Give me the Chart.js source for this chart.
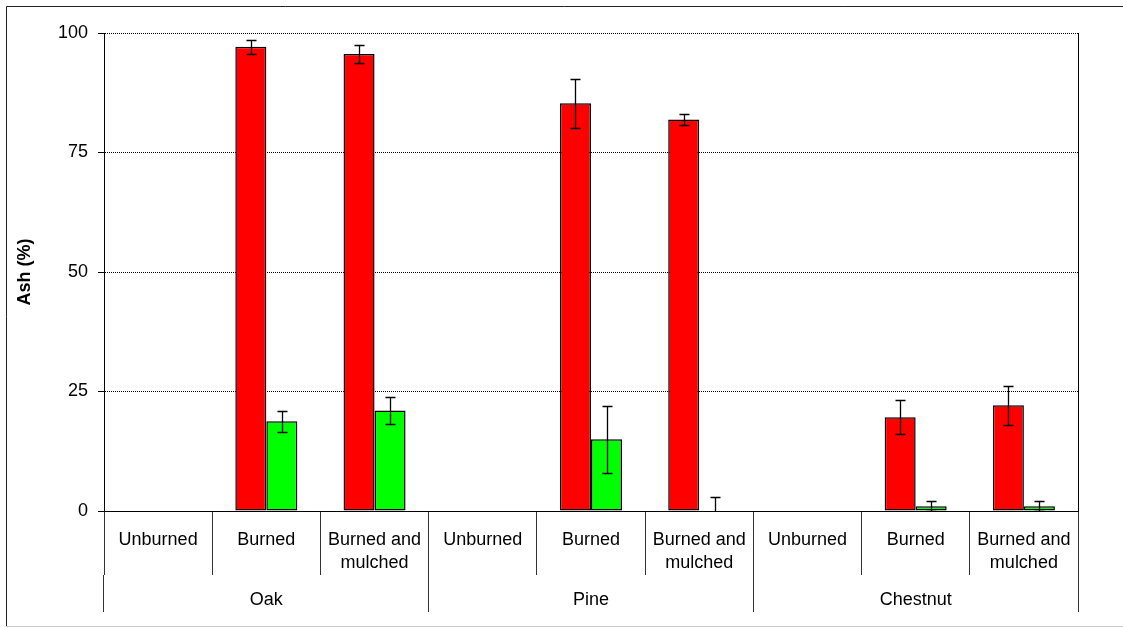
<!DOCTYPE html>
<html>
<head>
<meta charset="utf-8">
<script src="https://cdn.jsdelivr.net/npm/chart.js@4"></script>
<style>
  body { margin: 0; background: #fff; }
  #wrap { width: 1123px; height: 628px; position: relative; }
</style>
</head>
<body>
<div id="wrap"><canvas id="ashChart"></canvas></div>
<script>
const treatments = ['Unburned', 'Burned', ['Burned and', 'mulched'],
                    'Unburned', 'Burned', ['Burned and', 'mulched'],
                    'Unburned', 'Burned', ['Burned and', 'mulched']];
const species = ['Oak', 'Pine', 'Chestnut'];

// red series and its error
const redAsh = [0, 97.1, 95.6, 0, 85.3, 81.9, 0, 19.6, 22.1];
const redErr = [0, 1.5, 1.9, 0, 5.1, 1.25, 0, 3.55, 4.1];
// green series and its error
const greenAsh = [0, 18.8, 21.0, 0, 15.0, 0, 0, 1.0, 1.0];
const greenErr = [0, 2.2, 2.8, 0, 7.05, 2.9, 0, 1.0, 1.0];

const yTicks = [0, 25, 50, 75, 100];

const FONT = '"Liberation Sans", Arial, sans-serif';

// error whiskers on top of each bar
const errorBars = {
    id: 'errorBars',
    afterDatasetsDraw(chart) {
        const c = chart.ctx;
        const y = chart.scales.y;
        const area = chart.chartArea;
        c.save();
        c.beginPath();
        c.rect(area.left, area.top - 10, area.right - area.left, area.bottom - area.top + 10);
        c.clip();
        c.strokeStyle = '#000';
        c.lineWidth = 1.3;
        chart.data.datasets.forEach((ds, i) => {
            chart.getDatasetMeta(i).data.forEach((bar, j) => {
                const e = ds.errors[j];
                if (!e) return;
                const v = ds.data[j];
                const top = Math.round(y.getPixelForValue(v + e)) + 0.5;
                const bot = Math.round(y.getPixelForValue(v - e)) + 0.5;
                const x = Math.round(bar.x) + 0.5;
                c.beginPath();
                c.moveTo(x, top); c.lineTo(x, bot);
                c.moveTo(x - 5, top); c.lineTo(x + 5, top);
                c.moveTo(x - 5, bot); c.lineTo(x + 5, bot);
                c.stroke();
            });
        });
        c.restore();
    }
};

// outer frame and right edge of the plot
const frame = {
    id: 'frame',
    afterDraw(chart) {
        const c = chart.ctx;
        const a = chart.chartArea;
        c.save();
        c.lineWidth = 1;
        c.strokeStyle = '#000';
        c.beginPath();
        c.moveTo(Math.round(a.right) + 0.5, a.top);
        c.lineTo(Math.round(a.right) + 0.5, a.bottom);
        c.stroke();
        c.strokeStyle = '#222';
        c.beginPath();
        c.moveTo(1123, 6.5); c.lineTo(6.5, 6.5); c.lineTo(6.5, 626);
        c.stroke();
        c.strokeStyle = '#c8c8c8';
        c.beginPath();
        c.moveTo(6, 626.5); c.lineTo(1123, 626.5);
        c.stroke();
        c.restore();
    }
};

new Chart(document.getElementById('ashChart'), {
    type: 'bar',
    data: {
        labels: treatments,
        datasets: [{
            data: redAsh,
            errors: redErr,
            backgroundColor: '#ff0000',
            borderColor: '#000',
            borderWidth: 1.5,
            borderSkipped: false
        }, {
            data: greenAsh,
            errors: greenErr,
            backgroundColor: '#00ff00',
            borderColor: '#000',
            borderWidth: 1.5,
            borderSkipped: false
        }]
    },
    options: {
        responsive: true,
        maintainAspectRatio: false,
        animation: false,
        layout: { padding: { top: 33, right: 45, bottom: 16, left: 0 } },
        categoryPercentage: 0.573,
        barPercentage: 1,
        plugins: {
            legend: { display: false },
            tooltip: { enabled: false }
        },
        scales: {
            x: {
                grid: { offset: true, drawOnChartArea: false, color: '#333', tickLength: 64 },
                border: { color: '#000', width: 1 },
                ticks: {
                    color: '#000', padding: -46.5, maxRotation: 0, autoSkip: false,
                    font: { family: FONT, size: 18, lineHeight: 1.28 }
                },
                afterFit(s) { s.height = 64; }
            },
            x2: {
                type: 'category',
                labels: species,
                position: 'bottom',
                offset: true,
                grid: { offset: true, drawOnChartArea: false, color: '#333', tickLength: 37 },
                border: { display: false },
                ticks: {
                    color: '#000', padding: -23.5, maxRotation: 0, autoSkip: false,
                    font: { family: FONT, size: 18, lineHeight: 1.28 }
                },
                afterFit(s) { s.height = 37; }
            },
            y: {
                min: 0,
                max: 100,
                afterBuildTicks(s) { s.ticks = yTicks.map(v => ({ value: v })); },
                grid: { color: '#000', tickColor: '#000', tickLength: 6 },
                border: { color: '#000', width: 1, dash: [1, 1] },
                ticks: {
                    color: '#000', padding: 10,
                    font: { family: FONT, size: 18 }
                },
                title: {
                    display: true,
                    text: 'Ash (%)',
                    color: '#000',
                    padding: { top: 14, bottom: 0 },
                    font: { family: FONT, size: 18, weight: 'bold' }
                },
                afterFit(s) { s.width = 104; }
            }
        }
    },
    plugins: [errorBars, frame]
});
</script>
</body>
</html>
